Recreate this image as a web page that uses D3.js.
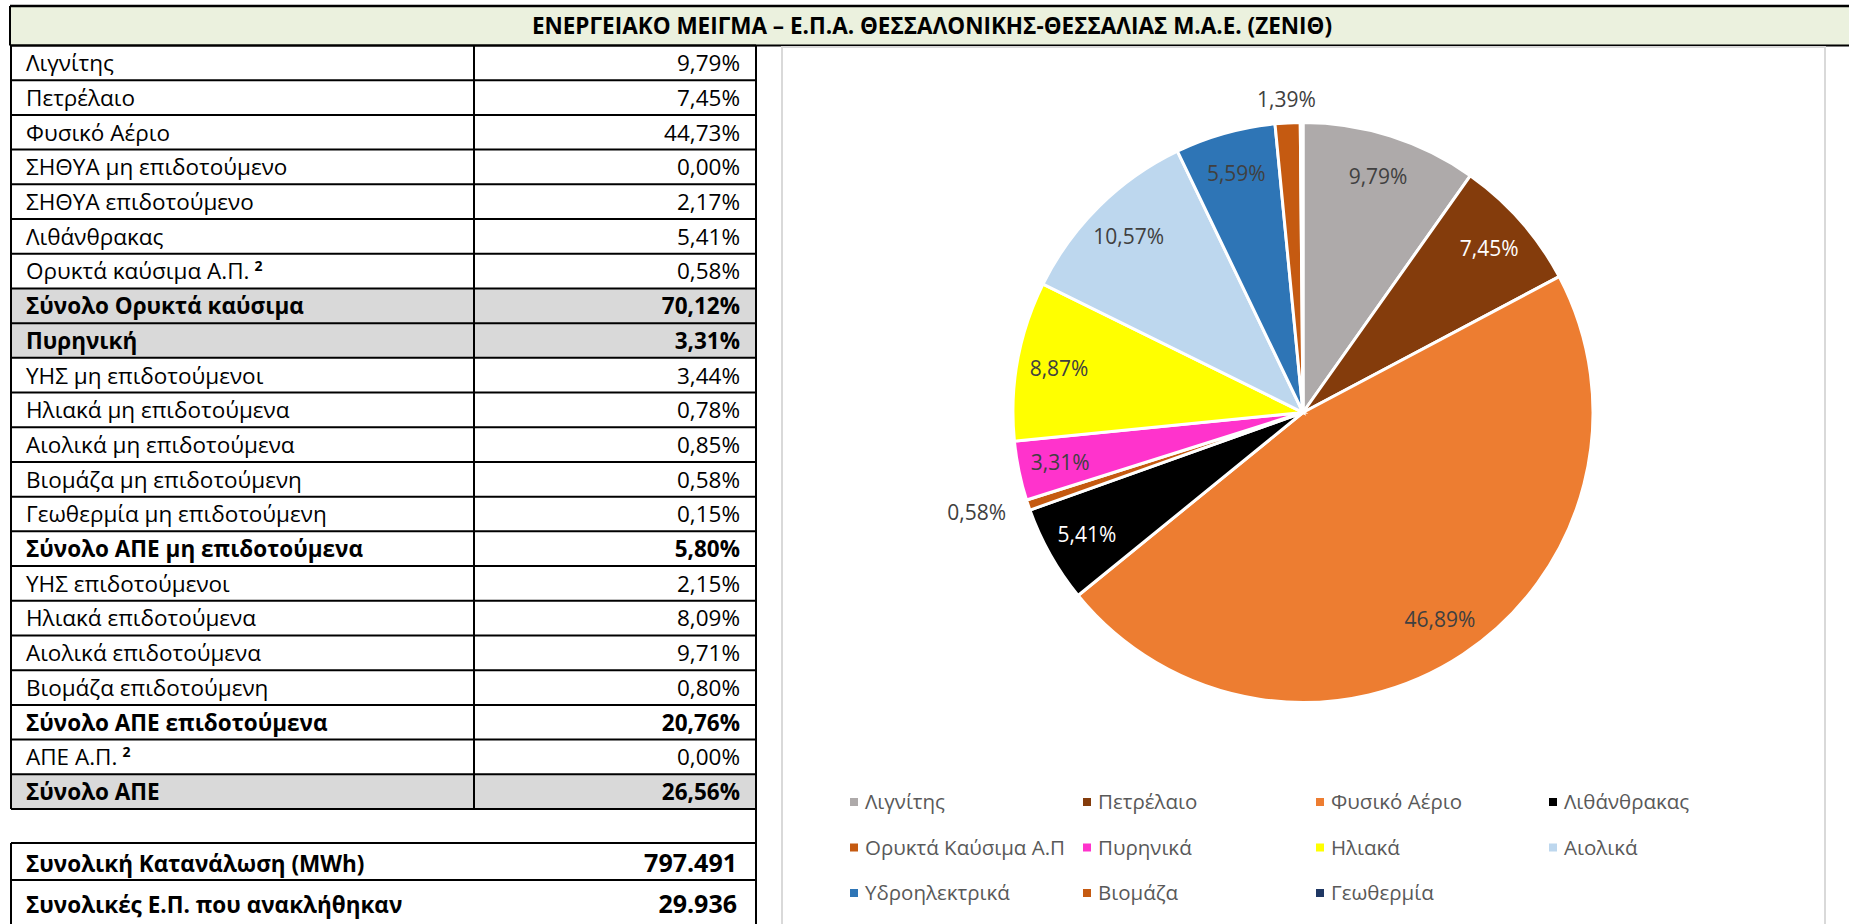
<!DOCTYPE html>
<meta charset="utf-8">
<style>

body {
  margin: 0;
  background: #fff;
}

text {
  font-family: "Open Sans", sans-serif;
}

.cell {
  font-size: 22.5px;
  fill: #000;
}

.grid line {
  stroke: #000;
  stroke-width: 2px;
}

.slices path {
  stroke: #fff;
  stroke-width: 3px;
}

.slice-label {
  font-size: 21px;
}

.legend text {
  font-size: 20.5px;
  fill: #595959;
}

</style>
<svg width="1849" height="924"></svg>
<script src="https://cdn.jsdelivr.net/npm/d3@7"></script>
<script>

var title = "ΕΝΕΡΓΕΙΑΚΟ ΜΕΙΓΜΑ – Ε.Π.Α. ΘΕΣΣΑΛΟΝΙΚΗΣ-ΘΕΣΣΑΛΙΑΣ Μ.Α.Ε. (ΖΕΝΙΘ)";

// table on the left
var rowLabels = ["Λιγνίτης", "Πετρέλαιο", "Φυσικό Αέριο", "ΣΗΘΥΑ μη επιδοτούμενο",
  "ΣΗΘΥΑ επιδοτούμενο", "Λιθάνθρακας", "Ορυκτά καύσιμα Α.Π.", "Σύνολο Ορυκτά καύσιμα",
  "Πυρηνική", "ΥΗΣ μη επιδοτούμενοι", "Ηλιακά μη επιδοτούμενα", "Αιολικά μη επιδοτούμενα",
  "Βιομάζα μη επιδοτούμενη", "Γεωθερμία μη επιδοτούμενη", "Σύνολο ΑΠΕ μη επιδοτούμενα",
  "ΥΗΣ επιδοτούμενοι", "Ηλιακά επιδοτούμενα", "Αιολικά επιδοτούμενα", "Βιομάζα επιδοτούμενη",
  "Σύνολο ΑΠΕ επιδοτούμενα", "ΑΠΕ Α.Π.", "Σύνολο ΑΠΕ"];
var rowValues = [9.79, 7.45, 44.73, 0.00, 2.17, 5.41, 0.58, 70.12, 3.31, 3.44, 0.78, 0.85,
  0.58, 0.15, 5.80, 2.15, 8.09, 9.71, 0.80, 20.76, 0.00, 26.56];
var rowKinds = ["item", "item", "item", "item", "item", "item", "item", "total",
  "total", "item", "item", "item", "item", "item", "subtotal",
  "item", "item", "item", "item", "subtotal", "item", "total"];
var rowNotes = ["", "", "", "", "", "", "2", "", "", "", "", "", "", "", "", "", "", "", "", "", "2", ""];

var totalLabels = ["Συνολική Κατανάλωση (MWh)", "Συνολικές Ε.Π. που ανακλήθηκαν"];
var totalValues = [797491, 29936];

// pie
var sources = ["Λιγνίτης", "Πετρέλαιο", "Φυσικό Αέριο", "Λιθάνθρακας", "Ορυκτά Καύσιμα Α.Π",
  "Πυρηνικά", "Ηλιακά", "Αιολικά", "Υδροηλεκτρικά", "Βιομάζα", "Γεωθερμία"];
var shares = [9.79, 7.45, 46.89, 5.41, 0.58, 3.31, 8.87, 10.57, 5.59, 1.39, 0.15];
var colors = ["#AEAAAA", "#843C0C", "#ED7D31", "#000000", "#C55A11",
  "#FF33CC", "#FFFF00", "#BDD7EE", "#2E75B6", "#C55A11", "#203864"];

var svg = d3.select("svg");

var el = d3.formatLocale({decimal: ",", thousands: ".", grouping: [3], currency: ["", "€"]});
var pct = function(v) { return el.format(".2f")(v) + "%"; };
var num = el.format(",d");

// header band
var headTop = 6, headBottom = 45.5;
svg.append("rect")
    .attr("x", 11).attr("y", headTop)
    .attr("width", 1849).attr("height", headBottom - headTop)
    .attr("fill", "#EBF1DE");
svg.append("line").attr("x1", 10).attr("x2", 1849).attr("y1", headTop).attr("y2", headTop)
    .attr("stroke", "#000").attr("stroke-width", 2.5);
svg.append("text")
    .attr("x", 932).attr("y", (headTop + headBottom) / 2)
    .attr("dy", "0.36em")
    .attr("text-anchor", "middle")
    .style("font-weight", "bold")
    .style("font-size", "22.5px")
    .text(title);

// table
var left = 11, divider = 474, right = 756;
var y = d3.scaleLinear().domain([0, rowLabels.length]).range([headBottom, 809]);

var rows = svg.append("g").selectAll("g")
    .data(rowLabels)
    .enter().append("g")
      .attr("transform", function(d, i) { return "translate(0," + y(i) + ")"; });

rows.append("rect")
    .attr("x", left).attr("width", right - left)
    .attr("height", function(d, i) { return y(i + 1) - y(i); })
    .attr("fill", function(d, i) { return rowKinds[i] == "total" ? "#D9D9D9" : "#fff"; });

var rowLabelText = rows.append("text")
    .attr("class", "cell")
    .attr("x", 26)
    .attr("y", function(d, i) { return y(i + 1) - y(i) - 9; })
    .style("font-weight", function(d, i) { return rowKinds[i] == "item" ? "normal" : "bold"; })
    .text(function(d) { return d; });

rowLabelText.filter(function(d, i) { return rowNotes[i]; })
  .append("tspan")
    .attr("dx", 5)
    .attr("dy", -8)
    .style("font-size", "14px")
    .style("font-weight", "bold")
    .text(function(d, i) { return rowNotes[rowLabels.indexOf(d)]; });

rows.append("text")
    .attr("class", "cell")
    .attr("x", 740)
    .attr("y", function(d, i) { return y(i + 1) - y(i) - 9; })
    .attr("text-anchor", "end")
    .style("font-weight", function(d, i) { return rowKinds[i] == "item" ? "normal" : "bold"; })
    .text(function(d, i) { return pct(rowValues[i]); });

var grid = svg.append("g").attr("class", "grid");
grid.selectAll("line.h")
    .data(d3.range(rowLabels.length + 1))
    .enter().append("line")
      .attr("x1", left).attr("x2", right)
      .attr("y1", function(i) { return y(i); })
      .attr("y2", function(i) { return y(i); });
grid.append("line").attr("x1", left).attr("x2", left).attr("y1", headBottom).attr("y2", y(rowLabels.length));
grid.append("line").attr("x1", divider).attr("x2", divider).attr("y1", headBottom).attr("y2", y(rowLabels.length));

// totals box
var ty = d3.scaleLinear().domain([0, 1, 2]).range([843, 880, 926]);
grid.append("line").attr("x1", right).attr("x2", right).attr("y1", headBottom).attr("y2", 924);
grid.append("line").attr("x1", left).attr("x2", left).attr("y1", ty(0)).attr("y2", 924);
grid.selectAll("line.t")
    .data([0, 1])
    .enter().append("line")
      .attr("x1", left).attr("x2", right)
      .attr("y1", function(i) { return ty(i); })
      .attr("y2", function(i) { return ty(i); });

var totals = svg.append("g").selectAll("g")
    .data(totalLabels)
    .enter().append("g");
totals.append("text")
    .attr("class", "cell")
    .attr("x", 26)
    .attr("y", function(d, i) { return i == 0 ? ty(1) - 8 : ty(1) + 33; })
    .style("font-weight", "bold")
    .text(function(d) { return d; });
totals.append("text")
    .attr("class", "cell")
    .attr("x", 737)
    .attr("y", function(d, i) { return i == 0 ? ty(1) - 8 : ty(1) + 33; })
    .attr("text-anchor", "end")
    .style("font-weight", "bold")
    .style("font-size", "25px")
    .text(function(d, i) { return num(totalValues[i]); });

// header bottom line over everything
svg.append("line").attr("x1", 10).attr("x2", 1849).attr("y1", headBottom).attr("y2", headBottom)
    .attr("stroke", "#000").attr("stroke-width", 2);
svg.append("line").attr("x1", 10).attr("x2", 10).attr("y1", headTop).attr("y2", headBottom)
    .attr("stroke", "#000").attr("stroke-width", 2);

// chart frame
svg.append("rect")
    .attr("x", 782).attr("y", 47)
    .attr("width", 1825 - 782).attr("height", 900)
    .attr("fill", "#fff")
    .attr("stroke", "#D9D9D9")
    .attr("stroke-width", 2);

var cx = 1303, cy = 412.5, radius = 290;

var pie = d3.pie().sort(null).value(function(d) { return d; });
var arcs = pie(shares);
var arc = d3.arc().innerRadius(0).outerRadius(radius);
var inLabel = d3.arc().innerRadius(radius * 0.855).outerRadius(radius * 0.855);
var outLabel = d3.arc().innerRadius(radius * 1.08).outerRadius(radius * 1.08);

var chart = svg.append("g").attr("transform", "translate(" + cx + "," + cy + ")");

chart.append("g")
    .attr("class", "slices")
  .selectAll("path")
  .data(arcs)
  .enter().append("path")
    .attr("d", arc)
    .attr("fill", function(d, i) { return colors[i]; });

chart.append("g")
  .selectAll("text")
  .data(arcs.filter(function(d) { return d.data >= 0.3; }))
  .enter().append("text")
    .attr("class", "slice-label")
    .attr("transform", function(d) {
      var p = d.data >= 2 ? inLabel.centroid(d) : outLabel.centroid(d);
      return "translate(" + p + ")";
    })
    .attr("dy", "0.36em")
    .attr("text-anchor", function(d) {
      if (d.data >= 2) return "middle";
      var x = outLabel.centroid(d)[0];
      return x < -radius * 0.3 ? "end" : x > radius * 0.3 ? "start" : "middle";
    })
    .attr("fill", function(d) {
      var c = colors[d.index];
      return d.data >= 2 && d3.lab(c).l < 40 ? "#fff" : "#404040";
    })
    .text(function(d) { return pct(d.data); });

// legend
var legend = svg.append("g")
    .attr("class", "legend")
  .selectAll("g")
  .data(sources)
  .enter().append("g")
    .attr("transform", function(d, i) {
      return "translate(" + (850 + (i % 4) * 233) + "," + (802 + Math.floor(i / 4) * 45.5) + ")";
    });

legend.append("rect")
    .attr("y", -4)
    .attr("width", 8).attr("height", 8)
    .attr("fill", function(d, i) { return colors[i]; });

legend.append("text")
    .attr("x", 15)
    .attr("dy", "0.36em")
    .text(function(d) { return d; });

</script>
